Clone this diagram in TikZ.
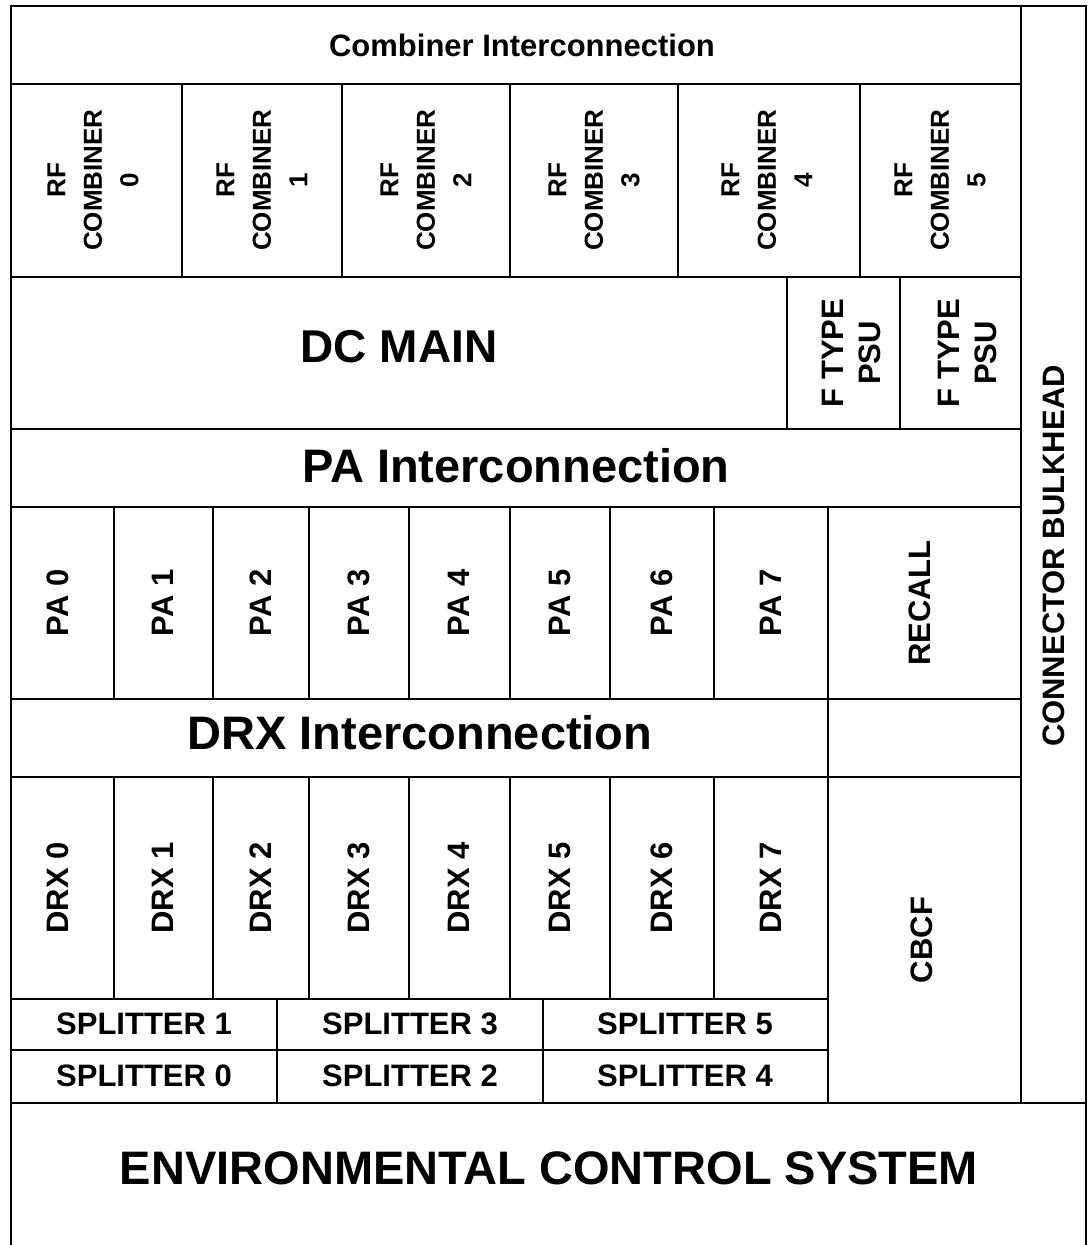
\documentclass[tikz,border=0pt]{standalone}
\usepackage{fontspec}
\setmainfont{Liberation Sans}
\begin{document}
\begin{tikzpicture}[x=1pt,y=-1pt,
  thinl/.style={line width=1.2pt},
  thickl/.style={line width=2.2pt},
  big/.style={font=\fontsize{47}{52}\selectfont\bfseries},
  mid/.style={font=\fontsize{31}{37}\selectfont\bfseries},
  small/.style={font=\fontsize{26}{36.5}\selectfont\bfseries},
  lbl/.style={inner sep=0pt, align=center},
  vert/.style={lbl, rotate=90}]
\useasboundingbox (0,0) rectangle (1089,1245);
\clip (0,0) rectangle (1089,1245);
% horizontal thin lines
\draw[thinl] (11,84) -- (1021,84);
\draw[thinl] (11,277) -- (1021,277);
\draw[thinl] (11,429) -- (1021,429);
\draw[thinl] (11,507) -- (1021,507);
\draw[thinl] (11,699) -- (1021,699);
\draw[thinl] (11,777) -- (1021,777);
\draw[thinl] (11,999) -- (828,999);
\draw[thinl] (11,1050) -- (828,1050);
% RF combiner dividers
\foreach \x in {182,342,510,678,860} \draw[thinl] (\x,84) -- (\x,277);
% PSU dividers
\foreach \x in {787,900} \draw[thinl] (\x,277) -- (\x,429);
% PA / DRX dividers
\foreach \x in {114,213,309,409,510,610,714} {
  \draw[thinl] (\x,507) -- (\x,699);
  \draw[thinl] (\x,777) -- (\x,999);
}
\draw[thinl] (828,507) -- (828,1103);
% splitter dividers
\foreach \x in {277,543} \draw[thinl] (\x,999) -- (\x,1103);
% thick lines
\draw[thickl] (11,1260) -- (11,6) -- (1086,6) -- (1086,1260);
\draw[thickl] (1021,6) -- (1021,1103);
\draw[thickl] (11,1103) -- (1086,1103);

% texts
\node[lbl, mid] (combint) at (522,45) {Combiner Interconnection};
\node[vert, small] (rf0) at (93,180) {RF\\COMBINER\\0};
\node[vert, small] (rf1) at (262,180) {RF\\COMBINER\\1};
\node[vert, small] (rf2) at (426,180) {RF\\COMBINER\\2};
\node[vert, small] (rf3) at (594,180) {RF\\COMBINER\\3};
\node[vert, small] (rf4) at (767,180) {RF\\COMBINER\\4};
\node[vert, small] (rf5) at (940,180) {RF\\COMBINER\\5};
\node[lbl, font=\fontsize{46}{52}\selectfont\bfseries] (dcmain) at (399,347) {DC MAIN};
\node[vert, mid] (psu1) at (851,353) {F TYPE\\PSU};
\node[vert, mid] (psu2) at (967,353) {F TYPE\\PSU};
\node[lbl, big] (paint) at (516,466) {PA Interconnection};
\node[vert, mid] (pa0) at (58,603) {PA 0};
\node[vert, mid] (pa1) at (163,603) {PA 1};
\node[vert, mid] (pa2) at (261,603) {PA 2};
\node[vert, mid] (pa3) at (359,603) {PA 3};
\node[vert, mid] (pa4) at (459,603) {PA 4};
\node[vert, mid] (pa5) at (560,603) {PA 5};
\node[vert, mid] (pa6) at (662,603) {PA 6};
\node[vert, mid] (pa7) at (771,603) {PA 7};
\node[vert, mid] (recall) at (920,603) {RECALL};
\node[lbl, big] (drxint) at (420,733) {DRX Interconnection};
\node[vert, mid] (drx0) at (58,888) {DRX 0};
\node[vert, mid] (drx1) at (163,888) {DRX 1};
\node[vert, mid] (drx2) at (261,888) {DRX 2};
\node[vert, mid] (drx3) at (359,888) {DRX 3};
\node[vert, mid] (drx4) at (459,888) {DRX 4};
\node[vert, mid] (drx5) at (560,888) {DRX 5};
\node[vert, mid] (drx6) at (662,888) {DRX 6};
\node[vert, mid] (drx7) at (771,888) {DRX 7};
\node[vert, mid] (cbcf) at (922,940) {CBCF};
\node[lbl, mid] (sp1) at (144,1024) {SPLITTER 1};
\node[lbl, mid] (sp3) at (410,1024) {SPLITTER 3};
\node[lbl, mid] (sp5) at (685,1024) {SPLITTER 5};
\node[lbl, mid] (sp0) at (144,1076) {SPLITTER 0};
\node[lbl, mid] (sp2) at (410,1076) {SPLITTER 2};
\node[lbl, mid] (sp4) at (685,1076) {SPLITTER 4};
\node[vert, mid] (bulk) at (1054,556) {CONNECTOR BULKHEAD};
\node[lbl, big] (ecs) at (549,1168) {ENVIRONMENTAL CONTROL SYSTEM};
\end{tikzpicture}
\end{document}
